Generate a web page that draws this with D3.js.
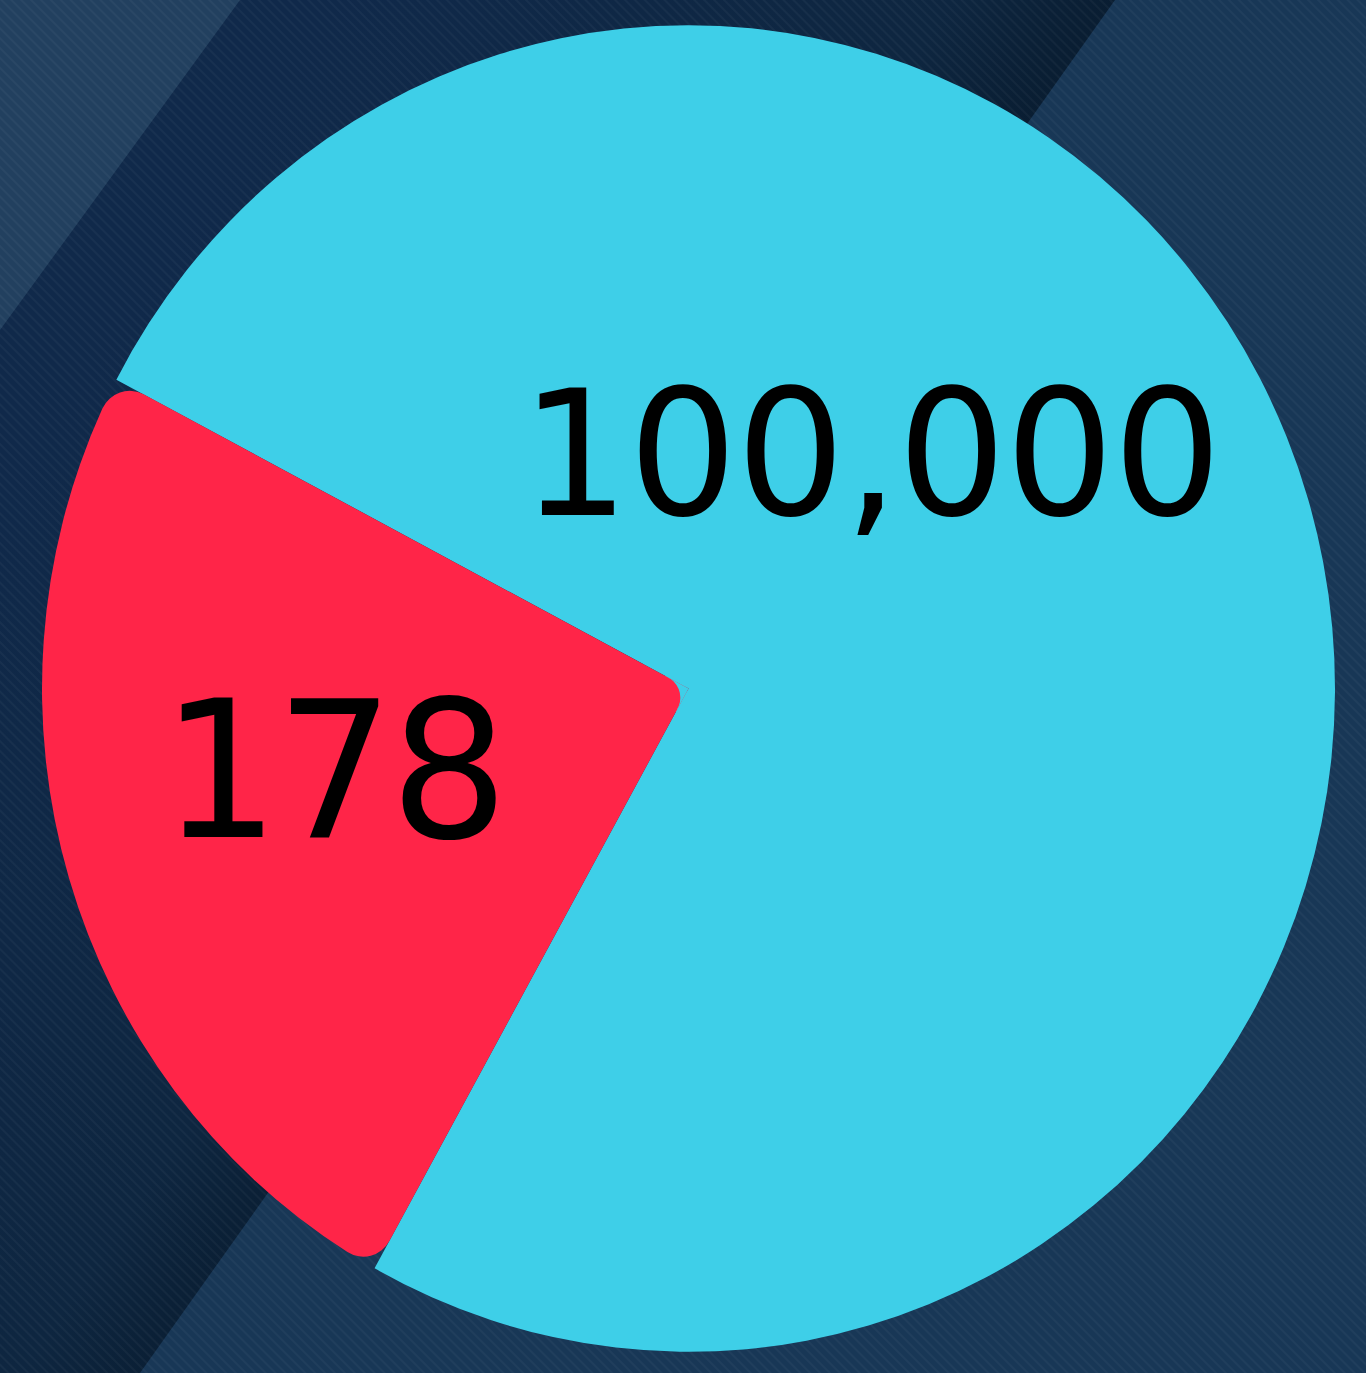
<!DOCTYPE html>
<html>
<head>
<meta charset="utf-8">
<script src="https://cdn.jsdelivr.net/npm/d3@7"></script>
<style>
  html, body { margin: 0; padding: 0; background: #132f4b; }
  svg { display: block; }
</style>
</head>
<body>
<svg id="chart" width="1366" height="1373"></svg>
<script>
// ---- data ----
const sliceValues = [100000, 178];
const sliceLabels = ["100,000", "178"];
const sliceAngleShare = [271.3, 88.7];   // angular share (degrees) as drawn in the picture
const sliceColors = ["#3ecfe8", "#ff2548"];

// ---- layout ----
const W = 1366, H = 1373;
const cx = 688.5, cy = 688.5, R = 646.5, yStretch = 1.026;
const startDeg = 297.75;
const outerCorner = 30, apexCorner = 22;

const svg = d3.select("#chart");
const defs = svg.append("defs");

// stripe texture
const pat = defs.append("pattern").attr("id", "stripes")
  .attr("width", 7).attr("height", 7).attr("patternUnits", "userSpaceOnUse")
  .attr("patternTransform", "rotate(-45)");
pat.append("rect").attr("width", 2).attr("height", 7).attr("fill", "#ffffff").attr("opacity", 0.035);

const shadow = defs.append("linearGradient").attr("id", "darkband")
  .attr("gradientUnits", "userSpaceOnUse")
  .attr("x1", 0).attr("y1", 500).attr("x2", 560).attr("y2", 880);
shadow.append("stop").attr("offset", 0).attr("stop-color", "#10294a");
shadow.append("stop").attr("offset", 0.75).attr("stop-color", "#0e2640");
shadow.append("stop").attr("offset", 1).attr("stop-color", "#081b2e");

// background bands
svg.append("rect").attr("width", W).attr("height", H).attr("fill", "#183756");
svg.append("path").attr("d", d3.line()([[0,0],[1115,0],[140,H],[0,H]]) + "Z").attr("fill", "url(#darkband)");
svg.append("path").attr("d", d3.line()([[0,0],[240,0],[0,330]]) + "Z").attr("fill", "#22405f");
svg.append("rect").attr("width", W).attr("height", H).attr("fill", "url(#stripes)");

// pie
const toRad = Math.PI / 180;
const pie = d3.pie().sort(null)
  .value((d, i) => sliceAngleShare[i])
  .startAngle(startDeg * toRad)
  .endAngle(startDeg * toRad + 2 * Math.PI);
const arcs = pie(sliceValues);

const g = svg.append("g").attr("transform", `translate(${cx},${cy}) scale(1,${yStretch})`);
const arcPlain = d3.arc().innerRadius(0).outerRadius(R);
const arcRound = d3.arc().innerRadius(0).outerRadius(R).cornerRadius(outerCorner);

// masks rounding the apex of the small slice
arcs.forEach((d, i) => {
  if (i === 0) return;
  const half = (d.endAngle - d.startAngle) / 2;
  const mid = (d.startAngle + d.endAngle) / 2;
  const tDist = apexCorner / Math.tan(half);
  const cDist = apexCorner / Math.sin(half);
  const m = defs.append("mask").attr("id", "apex" + i)
    .attr("maskUnits", "userSpaceOnUse")
    .attr("x", -W).attr("y", -H).attr("width", 2 * W).attr("height", 2 * H);
  m.append("rect").attr("x", -W).attr("y", -H).attr("width", 2 * W).attr("height", 2 * H).attr("fill", "#fff");
  m.append("path").attr("d", d3.arc().innerRadius(0).outerRadius(tDist + 0.5)(d)).attr("fill", "#000");
  m.append("circle").attr("cx", cDist * Math.sin(mid)).attr("cy", -cDist * Math.cos(mid))
    .attr("r", apexCorner).attr("fill", "#fff");
  // fill behind the rounded apex with the neighbouring colour
  g.append("path").attr("class", "apexfill")
    .attr("d", d3.arc().innerRadius(0).outerRadius(tDist + 4)
      .startAngle(d.startAngle - 0.15).endAngle(d.endAngle + 0.15)())
    .attr("fill", sliceColors[0]);
});

g.selectAll("path.slice").data(arcs).join("path")
  .attr("class", "slice")
  .attr("d", (d, i) => i === 0 ? arcPlain(d) : arcRound(d))
  .attr("fill", (d, i) => sliceColors[i])
  .attr("mask", (d, i) => i === 0 ? null : `url(#apex${i})`);
g.select("path.apexfill").raise();
g.selectAll("path.slice").filter((d, i) => i > 0).raise();

// labels
const labelPos = [
  { angleOffset: -34.8, rFrac: 0.452, size: 171, spacing: -1 },
  { angleOffset: 3.9, rFrac: 0.564, size: 186, spacing: -4 }
];
g.selectAll("text.lbl").data(arcs).join("text")
  .attr("class", "lbl")
  .attr("transform", (d, i) => {
    const a = (d.startAngle + d.endAngle) / 2 + labelPos[i].angleOffset * toRad;
    const r = R * labelPos[i].rFrac;
    return `translate(${r * Math.sin(a)},${-r * Math.cos(a)})`;
  })
  .attr("text-anchor", "middle")
  .attr("dominant-baseline", "central")
  .attr("font-family", "DejaVu Sans")
  .attr("font-size", (d, i) => labelPos[i].size)
  .attr("letter-spacing", (d, i) => labelPos[i].spacing)
  .attr("fill", "#000")
  .text((d, i) => sliceLabels[i]);
</script>
</body>
</html>
